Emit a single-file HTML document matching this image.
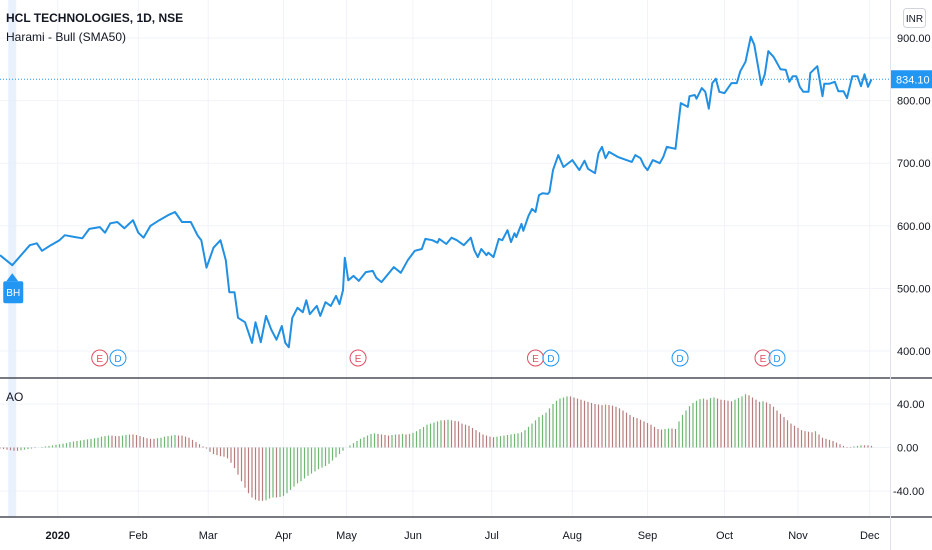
<!DOCTYPE html>
<html><head><meta charset="utf-8"><style>
html,body{margin:0;padding:0;background:#fff;}
#wrap{position:relative;width:932px;height:550px;overflow:hidden;font-family:"Liberation Sans",sans-serif;}
svg{position:absolute;left:0;top:0;}
</style></head><body>
<div id="wrap">
<svg id="chart" width="932" height="550"></svg>
</div>
<script>
// ---- data ----
const priceDays = [0,3.5,8.5,10.5,12,14.5,17,18.5,21.5,23.5,25.5,28.5,30,31.5,33.5,35.5,38,39.5,41,43,45.5,48,50,52,54.5,56.5,57.5,59,61,63,64.5,65.5,67,68,70,72,73,74.5,76,77.5,79,80.5,81.5,82.5,83.5,85,86.5,87.5,88.5,90.5,91.5,93,94.5,96,97,98,98.5,99.5,101,102.5,104.5,106.5,107.5,109,112.5,114.5,116.5,118.5,120.5,121.5,123.5,125,125.5,127.5,129,130.5,132.5,134.5,135.5,136.5,137.5,139,139.5,141,142.5,143.5,145,146,147,147.5,149,149.5,151,152,153,154,155,156.5,157,158,159.5,161,163.5,165.5,167,168,170,171,172,173,174,176.5,179,180.5,181.5,183,184,185,186.5,188.5,189.5,190.5,193,194.5,196.5,197,198.5,199,200.5,201.5,202.5,203.5,204.5,205.5,207,209,210.5,211.5,213,214.5,215.5,217.5,218.5,219.5,221,221.5,223,224.5,225.5,226.5,227.5,228.5,229.5,231,231.5,233.5,235,235.5,237,238.5,239.5,241,242,243.5,245,246,247,248,249];
const prices = [553,537,569,572,560,569,577,585,582,580,595,598,589,604,606,596,609,589,581,600,609,617,622,606,606,584,577,533,565,577,545,494,494,453,446,413,446,414,456,434,418,440,413,406,453,469,462,481,459,472,456,478,472,488,475,497,549,513,520,512,526,528,517,510,534,525,545,560,563,579,577,573,579,571,581,577,569,581,561,550,563,553,557,550,579,577,593,574,588,582,603,592,616,627,622,649,652,651,654,689,713,694,705,689,704,691,684,716,726,708,718,710,705,702,713,708,696,689,705,700,710,726,723,796,790,807,809,803,820,814,787,828,835,814,812,828,828,847,862,902,889,825,842,879,870,865,850,849,830,839,839,822,814,814,844,855,807,827,827,830,815,815,804,839,839,823,842,822,834.1];
const aoValues = [-1,-1.5,-2,-2.5,-3,-3,
-2.5,-2,-1.5,-1,-0.5,0,0.5,1,1.5,2,2.5,3,
3.5,4,5,5.5,6,6.5,7,7.5,8,8.5,9,
10,10.5,11,11,10.5,10.5,11,11.5,12,12,11.5,
10.5,9.5,8.5,8,8,8.5,9,
10,10.5,11,11.5,11,11,10,9,
7,5,3,1,-1,
-4,-6,-7,-8,-8.5,-10,
-14,-19,-25,-31,-37,-42,-46,-48,-49,
-49,-48.5,-47,-46,-46,-45.5,-44.5,-42,
-39,-36,-33,-31,-28.5,-26,-24,-22,-20,-18.5,-17,-15,-12,-9,-6,-3,
0,2,4,6,8,9.5,11,12.5,13,12.5,
12,11.5,11,11.5,12,12,12.5,12,12.5,
13.5,15,17,19,21,22,23,24,25,25,25.5,25,24.5,24,
22,21,20,18,16,14,12,11,10,9.5,
10,10.5,11,11.5,12,12.5,13,14,16,
19,22,25,28,30,32,36,40,43,45,46,47,47,
46,45,44,43,42,41,40,39.5,
39,39.5,39,38.5,37.5,36,
34,32,30,28,27,25.5,24,22.5,21,19,17,
16.5,17,17.5,17.5,17,
24,30,34,38,41,43,44.5,45,44,
45.5,46,45,44,43.5,43,
42.5,44,45.5,47,49,
48,46,44,42,42.5,41.5,40,37.5,
34,31,28,25,22,20,18,16,15,
14.5,14,15,
12,9,8,7,6,4.5,3,
1.5,0.5,0.5,1,1.5,2,2,2,1.5];
const monthLabels = ["2020","Feb","Mar","Apr","May","Jun","Jul","Aug","Sep","Oct","Nov","Dec"];
const monthDays = [16.5,39.5,59.5,81,99,118,140.5,163.5,185,207,228,248.5];
const priceTicks = [400,500,600,700,800,900];
const aoTicks = [-40,0,40];
const eventTypes = ["E","D","E","E","D","D","E","D"];
const eventDays = [28.5,33.7,102.3,153,157.4,194.3,218,222];
const lastPrice = 834.10;

// ---- scales ----
const PLOT_R = 890;
const xS = d => d * (871.5/249);
const yP = v => 38 + (900 - v) * 0.626;
const yA = v => 447.5 - v * (43.5/40);

const svg = document.getElementById('chart');
const NS = 'http://www.w3.org/2000/svg';
function mk(tag, attrs, parent){
  const e = document.createElementNS(NS, tag);
  for (const k in attrs) e.setAttribute(k, attrs[k]);
  (parent||svg).appendChild(e);
  return e;
}

// grids
monthDays.forEach((d,i)=>{
  const g = mk('line',{x1:xS(d),x2:xS(d),y1:0,y2:517,stroke:'#f0f3fa','stroke-width':1});
  
  
});
priceTicks.forEach(v=>{
  const g = mk('line',{x1:0,x2:PLOT_R,y1:yP(v),y2:yP(v),stroke:'#f0f3fa','stroke-width':1});
  
  
});
aoTicks.forEach(v=>{
  const g = mk('line',{x1:0,x2:PLOT_R,y1:yA(v),y2:yA(v),stroke:'#f0f3fa','stroke-width':1});
  
  
});

// highlight band at BH signal
const band = mk('rect',{x:xS(3.5)-4,y:0,width:8,height:517,fill:'#e3eefb',opacity:0.8});



// last price dotted line
const lp = mk('line',{x1:0,x2:PLOT_R,y1:yP(lastPrice),y2:yP(lastPrice),stroke:'#2196f3','stroke-width':1,'stroke-dasharray':'1,2'});



// price line
let dstr = '';
prices.forEach((v,i)=>{ dstr += (i?'L':'M') + xS(priceDays[i]).toFixed(1) + ',' + yP(v).toFixed(1); });
const pl = mk('path',{d:dstr,fill:'none',stroke:'#2190e3','stroke-width':2,'stroke-linejoin':'round'});



// BH marker
const bhx = xS(3.5);
const bhG = mk('g',{});


mk('path',{d:`M${bhx},${yP(prices[1])+8} L${bhx+6},${yP(prices[1])+16} L${bhx-6},${yP(prices[1])+16}Z`,fill:'#2196f3'},bhG);
mk('rect',{x:bhx-9,y:yP(prices[1])+16,width:20,height:22,rx:2,fill:'#2196f3'},bhG);
const bht = mk('text',{x:bhx+1,y:yP(prices[1])+31,'font-size':10,fill:'#fff','text-anchor':'middle'},bhG);
bht.textContent='BH';

// events
eventTypes.forEach((t,i)=>{
  const col = t==='E' ? '#e04e62' : '#2196f3';
  const g = mk('g',{});
  
  
  mk('circle',{cx:xS(eventDays[i]),cy:358,r:8,fill:'#fff','fill-opacity':0.6,stroke:col,'stroke-width':1},g);
  const tx = mk('text',{x:xS(eventDays[i]),y:362,'font-size':10,fill:col,'text-anchor':'middle'},g);
  tx.textContent=t;
});

// AO bars
aoValues.forEach((v,i)=>{
  const up = i===0 ? false : v > aoValues[i-1];
  const x = xS(i);
  const r = mk('line',{x1:x,x2:x,y1:yA(0),y2:yA(v),stroke: up ? '#6fb873' : '#b77c7c','stroke-width':1.2});
  
  
});

// pane separators & axis border
const s1 = mk('line',{x1:0,x2:932,y1:378,y2:378,stroke:'#4a4e58','stroke-width':1.5});


const s2 = mk('line',{x1:0,x2:932,y1:517,y2:517,stroke:'#4a4e58','stroke-width':1.5});


const ab = mk('line',{x1:PLOT_R+0.5,x2:PLOT_R+0.5,y1:0,y2:550,stroke:'#e0e3eb','stroke-width':1});



// price axis labels
priceTicks.forEach(v=>{
  const t = mk('text',{x:897,y:yP(v)+4,'font-size':11,fill:'#131722'});
  
  
  t.textContent = v.toFixed(2);
});
aoTicks.forEach(v=>{
  const t = mk('text',{x:v<0?893:897,y:yA(v)+4,'font-size':11,fill:'#131722'});
  
  
  t.textContent = v.toFixed(2);
});
// last price tag
const tag = mk('rect',{x:891,y:yP(lastPrice)-9,width:41,height:18,fill:'#2196f3'});


const tagT = mk('text',{x:896,y:yP(lastPrice)+4,'font-size':11,fill:'#fff'});


tagT.textContent = lastPrice.toFixed(2);

// currency button
const cur = mk('rect',{x:903.5,y:8.5,width:22,height:19,rx:3,fill:'#fff',stroke:'#d1d4dc'});


const curT = mk('text',{x:914.5,y:22,'font-size':10,fill:'#131722','text-anchor':'middle'});


curT.textContent='INR';

// time axis labels
monthLabels.forEach((m,i)=>{
  const t = mk('text',{x:xS(monthDays[i]),y:539,'font-size':11,fill:'#131722','text-anchor':'middle','font-weight':m==='2020'?'bold':'normal'});
  
  
  t.textContent = m;
});

// titles
const t1 = mk('text',{x:6,y:22,'font-size':12,fill:'#131722','font-weight':'bold'});


t1.textContent='HCL TECHNOLOGIES, 1D, NSE';
const t2 = mk('text',{x:6,y:41,'font-size':12,fill:'#131722'});


t2.textContent='Harami - Bull (SMA50)';
const t3 = mk('text',{x:6,y:401,'font-size':12,fill:'#131722'});


t3.textContent='AO';
</script>
</body></html>
